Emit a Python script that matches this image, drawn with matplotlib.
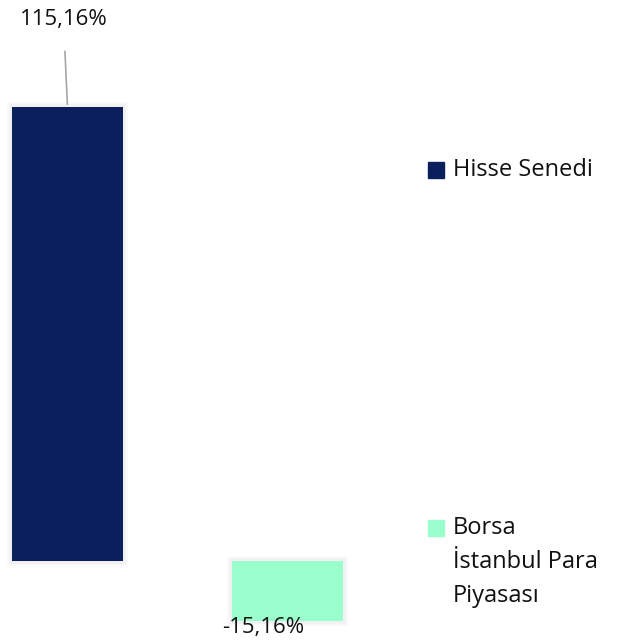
import matplotlib
matplotlib.use("Agg")
import matplotlib.pyplot as plt
from matplotlib.patches import Rectangle
import matplotlib.patheffects as pe

series_names = ["Hisse Senedi", "Borsa\nİstanbul Para\nPiyasası"]
values = [115.16, -15.16]
colors = ["#0A1F5C", "#99FFCC"]

plt.rcParams['font.family'] = ['Open Sans', 'DejaVu Sans']

W, H = 625, 644
fig = plt.figure(figsize=(W / 100, H / 100), dpi=100)
ax = fig.add_axes([0, 0, 410 / W, 1])
ax.set_axis_off()

scale = 454 / 115.16  # px per unit
zero_px = 561
ax.set_ylim(-(H - zero_px) / scale, zero_px / scale)
ax.set_xlim(-67.5 / 220, (410 - 67.5) / 220)

x = list(range(len(values)))
bars = ax.bar(x, values, width=111 / 220, color=colors, zorder=3)
for b in bars:
    b.set_path_effects([pe.withStroke(linewidth=7, foreground=(0, 0, 0, 0.025)),
                        pe.withStroke(linewidth=4, foreground=(0, 0, 0, 0.03)),
                        pe.Normal()])

def fmt(v):
    return f"{v:.2f}".replace(".", ",") + "%"

ax.annotate(fmt(values[0]), xy=(x[0], values[0]), xytext=(-4, 87),
            textcoords="offset pixels", ha="center", va="center",
            fontsize=16, color="#111111",
            arrowprops=dict(arrowstyle="-", color="#A6A6A6", lw=1.2,
                            shrinkA=13, shrinkB=2))
ax.annotate(fmt(values[1]), xy=(x[1], values[1]), xytext=(-24, -7),
            textcoords="offset pixels", ha="center", va="center",
            fontsize=16, color="#111111")

leg_y = [170, 528]
for name, col, yy in zip(series_names, colors, leg_y):
    fig.patches.append(Rectangle((428 / W, 1 - (yy + 8) / H), 16 / W, 16 / H,
                                 transform=fig.transFigure, color=col))
    lines = name.split("\n")
    for i, ln in enumerate(lines):
        fig.text(453 / W, 1 - (yy + i * 34) / H, ln, fontsize=17,
                 color="#111111", ha="left", va="center")

fig.savefig("out.png", dpi=100)
